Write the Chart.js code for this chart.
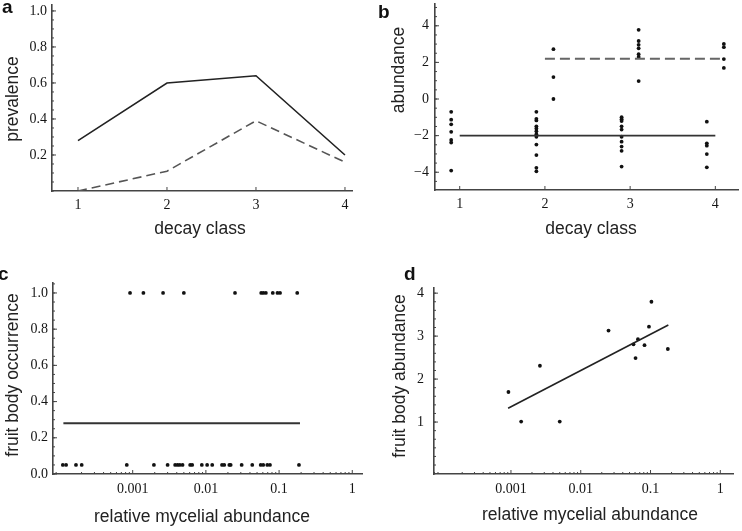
<!DOCTYPE html>
<html>
<head>
<meta charset="utf-8">
<script src="https://cdn.jsdelivr.net/npm/chart.js@4.4.0/dist/chart.umd.min.js"></script>
<style>
  body { margin: 0; background: #fff; }
  #fig { position: relative; width: 742px; height: 531px; overflow: hidden; background: #fff; }
  canvas { position: absolute; }
  .lbl { position: absolute; font-family: "Liberation Sans", Arial, sans-serif; font-size: 17.5px; line-height: 17px; color: #222; white-space: nowrap; }
  .hor { transform: translate(-50%, -50%); }
  .rot { transform: translate(-50%, -50%) rotate(-90deg); }
  .tag { position: absolute; font-family: "Liberation Sans", Arial, sans-serif; font-weight: bold; font-size: 19px; line-height: 19px; color: #111; }
</style>
</head>
<body>
<div id="fig">
  <canvas id="chartA" width="371" height="265" style="left:0;top:0"></canvas>
  <canvas id="chartB" width="371" height="265" style="left:371px;top:0"></canvas>
  <canvas id="chartC" width="371" height="266" style="left:0;top:265px"></canvas>
  <canvas id="chartD" width="371" height="266" style="left:371px;top:265px"></canvas>

  <div class="tag" style="left:2px;top:-3px">a</div>
  <div class="tag" style="left:378px;top:2px">b</div>
  <div class="tag" style="left:-2px;top:264px">c</div>
  <div class="tag" style="left:404px;top:264px">d</div>

  <div class="lbl rot" style="left:11.5px;top:99px">prevalence</div>
  <div class="lbl hor" style="left:200px;top:228px">decay class</div>
  <div class="lbl rot" style="left:398px;top:70px">abundance</div>
  <div class="lbl hor" style="left:591px;top:228px">decay class</div>
  <div class="lbl rot" style="left:11.5px;top:375px">fruit body occurrence</div>
  <div class="lbl hor" style="left:202px;top:516px">relative mycelial abundance</div>
  <div class="lbl rot" style="left:399px;top:376px">fruit body abundance</div>
  <div class="lbl hor" style="left:590px;top:514px">relative mycelial abundance</div>
</div>

<script>
// a: prevalence per decay class
const decayClasses = [1, 2, 3, 4];
const prevalenceMycel = [0.28, 0.60, 0.64, 0.20];
const prevalenceFruit = [0.00, 0.11, 0.39, 0.16];
const prevalenceTicks = [0.2, 0.4, 0.6, 0.8, 1.0];

// b: abundance per decay class (mycelium = low group, fruit bodies = high group)
const abundMycel = [
    [-0.70, -1.13, -1.38, -1.79, -2.24, -2.38, -3.91],
    [-0.70, -1.08, -1.17, -1.49, -1.61, -1.76, -1.92, -2.06, -2.49, -3.06, -3.76, -3.95],
    [-0.99, -1.10, -1.20, -1.49, -1.67, -2.06, -2.33, -2.60, -2.83, -3.69],
    [-1.24, -2.42, -2.55, -3.01, -3.73]
];
const abundFruit = [
    [],
    [2.72, 1.20, 0.00],
    [3.78, 3.17, 2.96, 2.77, 2.45, 2.30, 0.98],
    [3.01, 2.83, 2.18, 1.70]
];
const abundMycelMean = -2.0;
const abundFruitMean = 2.2;
const abundMycelSpan = [1, 4];
const abundFruitSpan = [2, 4.06];
const abundTicks = [-4, -2, 0, 2, 4];

// c, d: relative mycelial abundance vs fruit bodies
const mycelWithFruit = [0.00092, 0.0014, 0.0026, 0.0050, 0.025, 0.057, 0.061, 0.066, 0.082, 0.095, 0.103, 0.177];
const mycelNoFruit = [0.000111, 0.000123, 0.000168, 0.000201, 0.00083, 0.00195, 0.0030, 0.0038, 0.0041, 0.0044,
    0.0048, 0.0061, 0.0065, 0.0088, 0.0104, 0.0122, 0.0166, 0.0178, 0.0209, 0.0218, 0.0308, 0.0430, 0.0561,
    0.0608, 0.0690, 0.0751, 0.187];
const occurrenceYes = 1.0;
const occurrenceNo = 0.05;
const occurrenceFit = 0.28;
const occurrenceFitSpan = [0.000113, 0.193];
const fruitAbundance = [1.70, 1.01, 2.31, 1.01, 3.13, 2.81, 2.49, 2.93, 2.79, 3.22, 3.80, 2.70];
const abundFitX = [0.00091, 0.18];
const abundFitY = [1.32, 3.26];
const occurrenceTicks = [0.0, 0.2, 0.4, 0.6, 0.8, 1.0];
const logTicks = [0.001, 0.01, 0.1, 1];
const fruitAbundTicks = [1, 2, 3, 4];

const tickFont = { family: "'Liberation Serif', 'Times New Roman', serif", size: 14 };
const axisColor = "#444";

// small inward tick marks like the original figure
const inwardTicks = {
    id: "inwardTicks",
    afterDraw(chart, args, opts) {
        const ctx = chart.ctx;
        const area = chart.chartArea;
        ctx.save();
        ctx.strokeStyle = axisColor;
        ctx.lineWidth = 1;
        ctx.beginPath();
        const mark = (scale, v, len) => {
            const p = scale.getPixelForValue(v);
            if (scale.isHorizontal()) {
                if (p < area.left - 0.5 || p > area.right + 0.5) return;
                ctx.moveTo(p, area.bottom);
                ctx.lineTo(p, area.bottom - len);
            } else {
                if (p < area.top - 0.5 || p > area.bottom + 0.5) return;
                ctx.moveTo(area.left, p);
                ctx.lineTo(area.left + len, p);
            }
        };
        [chart.scales.x, chart.scales.y].forEach((s) => {
            const o = opts[s.id] || {};
            s.ticks.forEach((t) => mark(s, t.value, 4));
            if (o.minorStep) {
                for (let v = Math.ceil(s.min / o.minorStep) * o.minorStep; v <= s.max; v += o.minorStep) mark(s, v, 2);
            }
            if (o.logMinor) {
                for (let e = Math.floor(Math.log10(s.min)); e <= Math.ceil(Math.log10(s.max)); e++) {
                    for (let k = 2; k < 10; k++) {
                        const v = k * Math.pow(10, e);
                        if (v >= s.min && v <= s.max) mark(s, v, 2);
                    }
                }
            }
        });
        ctx.stroke();
        ctx.restore();
    }
};

const makeScale = (cfg) => {
    return {
        type: cfg.type || "linear",
        min: cfg.min,
        max: cfg.max,
        grid: { display: false, drawTicks: false },
        border: { display: true, color: axisColor, width: 1.6 },
        ticks: {
            font: tickFont,
            color: "#151515",
            padding: cfg.padding,
            autoSkip: false,
            maxRotation: 0,
            callback: cfg.format
        },
        afterBuildTicks: (scale) => {
            scale.ticks = cfg.ticks.map((v) => ({ value: v }));
        },
        afterFit: (scale) => {
            if (cfg.width) scale.width = cfg.width;
            if (cfg.height) scale.height = cfg.height;
            // keep the plot area where it is, labels may hang over the edge
            scale.paddingTop = 0;
            scale.paddingBottom = 0;
            scale.paddingLeft = 0;
            scale.paddingRight = 0;
        }
    };
};

const baseOptions = (pad, xScale, yScale, tickOpts) => ({
    responsive: false,
    animation: false,
    layout: { padding: pad },
    plugins: { legend: { display: false }, tooltip: { enabled: false }, inwardTicks: tickOpts },
    scales: { x: xScale, y: yScale }
});

const pts = (xs, ys) => xs.map((x, i) => ({ x: x, y: Array.isArray(ys) ? ys[i] : ys }));

const lineSet = (data, dashed, width, color) => ({
    data: data,
    showLine: true,
    borderColor: color,
    borderWidth: width,
    borderDash: dashed ? dashed : [],
    pointRadius: 0,
    fill: false
});

const dotSet = (data) => ({
    data: data,
    showLine: false,
    pointRadius: 1.9,
    pointBackgroundColor: "#111",
    pointBorderWidth: 0
});

const fmt1 = (v) => Number(v).toFixed(1);
const fmtMinus = (v) => (v < 0 ? "\u2212" + Math.abs(v) : String(v));

// a
new Chart(document.getElementById("chartA"), {
    type: "scatter",
    data: {
        datasets: [
            lineSet(pts(decayClasses, prevalenceMycel), null, 1.6, "#222"),
            lineSet(pts(decayClasses, prevalenceFruit), [9, 5], 1.6, "#555")
        ]
    },
    options: baseOptions(
        { top: 5, right: 19, left: 0, bottom: 0 },
        makeScale({ min: 0.708, max: 4.079, ticks: decayClasses, height: 74, padding: 6, format: (v) => String(v) }),
        makeScale({ min: 0, max: 1.033, ticks: prevalenceTicks, width: 52, padding: 5, format: fmt1 }),
        { y: { minorStep: 0.05 } }
    ),
    plugins: [inwardTicks]
});

// b
const offsetLow = -0.1;
const offsetHigh = 0.1;
const bLowX = [], bLowY = [], bHighX = [], bHighY = [];
decayClasses.forEach((c, i) => {
    abundMycel[i].forEach((v) => { bLowX.push(c + offsetLow); bLowY.push(v); });
    abundFruit[i].forEach((v) => { bHighX.push(c + offsetHigh); bHighY.push(v); });
});
new Chart(document.getElementById("chartB"), {
    type: "scatter",
    data: {
        datasets: [
            lineSet(pts(abundMycelSpan, abundMycelMean), null, 1.6, "#333"),
            lineSet(pts(abundFruitSpan, abundFruitMean), [10, 5], 2.2, "#666"),
            dotSet(pts(bLowX, bLowY)),
            dotSet(pts(bHighX, bHighY))
        ]
    },
    options: baseOptions(
        { top: 2, right: 0, left: 0, bottom: 0 },
        makeScale({ min: 0.71, max: 4.266, ticks: decayClasses, height: 75, padding: 6, format: (v) => String(v) }),
        makeScale({ min: -4.97, max: 5.19, ticks: abundTicks, width: 64, padding: 6, format: fmtMinus }),
        { y: { minorStep: 0.5 } }
    ),
    plugins: [inwardTicks]
});

// c
new Chart(document.getElementById("chartC"), {
    type: "scatter",
    data: {
        datasets: [
            lineSet(pts(occurrenceFitSpan, occurrenceFit), null, 2, "#333"),
            dotSet(pts(mycelWithFruit, occurrenceYes)),
            dotSet(pts(mycelNoFruit, occurrenceNo))
        ]
    },
    options: baseOptions(
        { top: 18, right: 9, left: 0, bottom: 0 },
        makeScale({ type: "logarithmic", min: 8.15e-5, max: 1.358, ticks: logTicks, height: 57, padding: 7, format: (v) => String(v) }),
        makeScale({ min: 0, max: 1.055, ticks: occurrenceTicks, width: 53, padding: 5, format: fmt1 }),
        { x: { logMinor: true }, y: { minorStep: 0.05 } }
    ),
    plugins: [inwardTicks]
});

// d
new Chart(document.getElementById("chartD"), {
    type: "scatter",
    data: {
        datasets: [
            lineSet(pts(abundFitX, abundFitY), null, 1.6, "#222"),
            dotSet(pts(mycelWithFruit, fruitAbundance))
        ]
    },
    options: baseOptions(
        { top: 23, right: 9, left: 0, bottom: 0 },
        makeScale({ type: "logarithmic", min: 7.89e-5, max: 1.52, ticks: logTicks, height: 57, padding: 7, format: (v) => String(v) }),
        makeScale({ min: -0.209, max: 4.12, ticks: fruitAbundTicks, width: 63, padding: 10, format: (v) => String(v) }),
        { x: { logMinor: true }, y: { minorStep: 0.2 } }
    ),
    plugins: [inwardTicks]
});
</script>
</body>
</html>
